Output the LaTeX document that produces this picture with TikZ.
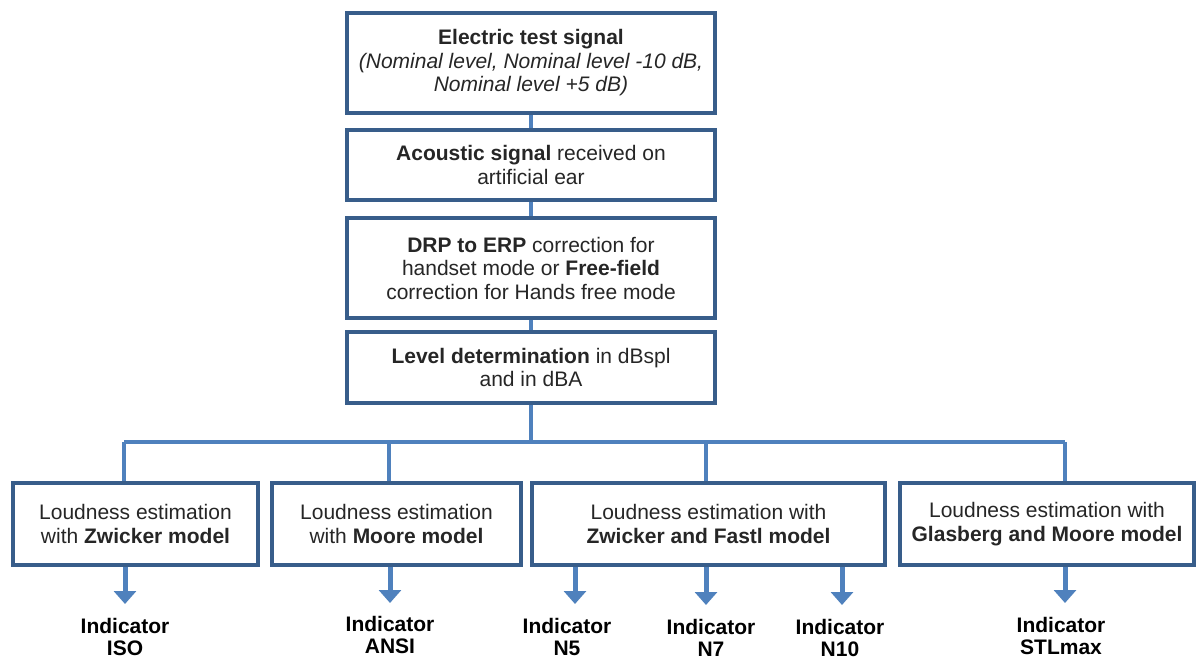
\documentclass[tikz,border=0pt]{standalone}
\usepackage{fontspec}
\setmainfont{Liberation Sans}
\usetikzlibrary{arrows.meta}
\definecolor{boxblue}{HTML}{385D8A}
\definecolor{linkblue}{HTML}{4F81BD}
\begin{document}
\begin{tikzpicture}[x=1pt,y=-1pt,
  box/.style={draw=boxblue, line width=3.5pt, fill=white, align=center, inner sep=0pt, text=black!85, font=\fontsize{21}{23.5}\selectfont},
  link/.style={draw=linkblue, line width=4pt},
  arr/.style={draw=linkblue, line width=5pt, -{Triangle[width=22pt,length=13pt]}},
  ind/.style={align=center, inner sep=0pt, font=\fontsize{21}{22}\selectfont\bfseries}]
\useasboundingbox (0,0) rectangle (1196,659);
\node[box, minimum width=368pt, minimum height=100pt] (sig) at (531,63) {\textbf{Electric test signal}\\\textit{(Nominal level, Nominal level -10 dB,}\\\textit{Nominal level +5 dB)}};
\node[box, minimum width=368pt, minimum height=70pt] (ac) at (531,165) {\textbf{Acoustic signal} received on\\artificial ear};
\node[box, minimum width=368pt, minimum height=100pt] (corr) at (531,268) {\textbf{DRP to ERP} correction for\\handset mode or \textbf{Free-field}\\correction for Hands free mode};
\node[box, minimum width=368pt, minimum height=71pt] (lev) at (531,367.5) {\textbf{Level determination} in dBspl\\and in dBA};
\draw[link](sig) -- (ac);
\draw[link](ac) -- (corr);
\draw[link](corr) -- (lev);
\node[box, minimum width=245pt, minimum height=82pt] (zw) at (135.5,524) {Loudness estimation\\with \textbf{Zwicker model}};
\node[box, minimum width=249pt, minimum height=82pt] (mo) at (396.5,524) {Loudness estimation\\with \textbf{Moore model}};
\node[box, minimum width=353pt, minimum height=82pt] (zf) at (708.5,524) {Loudness estimation with\\\textbf{Zwicker and Fastl model}};
\node[box, minimum width=294pt, minimum height=82pt] (gm) at (1047,524) {Loudness estimation with\\\textbf{Glasberg and Moore model}};
\coordinate (bus) at (531,442);
\coordinate (j1) at (124,442);
\coordinate (j2) at (389,442);
\coordinate (j3) at (706,442);
\coordinate (j4) at (1065,442);
\draw[link](lev) -- (bus);
\draw[link](j1) -- (j4);
\draw[link](j1) -- (j1 |- zw.north);
\draw[link](j2) -- (j2 |- mo.north);
\draw[link](j3) -- (j3 |- zf.north);
\draw[link](j4) -- (j4 |- gm.north);
\node[ind] (iso) at (125,637) {Indicator\\ISO};
\node[ind] (ansi) at (390,635) {Indicator\\ANSI};
\node[ind] (n5) at (567,637) {Indicator\\N5};
\node[ind] (n7) at (711,638) {Indicator\\N7};
\node[ind] (n10) at (840,638) {Indicator\\N10};
\node[ind] (stl) at (1061,636) {Indicator\\STLmax};
\coordinate (a1) at (125,604);
\coordinate (a2) at (390,603);
\coordinate (a3) at (575,604);
\coordinate (a4) at (706,605);
\coordinate (a5) at (842,605);
\coordinate (a6) at (1065,603);
\draw[arr](a1 |- zw.south) -- (a1);
\draw[arr](a2 |- mo.south) -- (a2);
\draw[arr](a3 |- zf.south) -- (a3);
\draw[arr](a4 |- zf.south) -- (a4);
\draw[arr](a5 |- zf.south) -- (a5);
\draw[arr](a6 |- gm.south) -- (a6);
\end{tikzpicture}
\end{document}
